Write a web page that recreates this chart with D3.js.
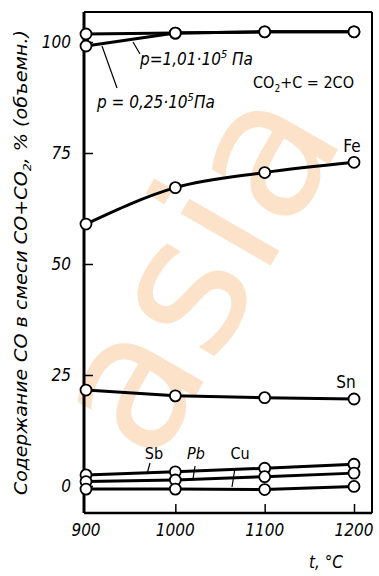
<!DOCTYPE html>
<html><head><meta charset="utf-8">
<script src="https://cdn.jsdelivr.net/npm/d3@7"></script>
<style>
body{margin:0;background:#fff;}
svg{display:block;}
text{font-family:"DejaVu Sans Condensed","DejaVu Sans",sans-serif;}
</style></head>
<body>
<script>
const temps = [900, 1000, 1100, 1200];
const xTicks = [900, 1000, 1100, 1200];
const yTicks = [0, 25, 50, 75, 100];
const pLow = [101.8, 102.0, 102.3, 102.3];   // p = 0,25·10^5 Па
const pHigh = [99.1, 102.0, 102.3, 102.3];   // p = 1,01·10^5 Па
const fe = [59.0, 67.2, 70.6, 72.9];
const sn = [21.6, 20.3, 19.9, 19.6];
const sb = [2.5, 3.2, 4.0, 4.9];
const pb = [1.0, 1.35, 2.1, 2.9];
const cu = [-0.7, -0.7, -0.8, -0.1];

const W = 379, H = 576;
const svg = d3.select("body").append("svg").attr("width", W).attr("height", H);

const mL = 84, mR = 372, mT = 12, mB = 513;
const x = d3.scaleLinear().domain([900, 1200]).range([86, 354]);
const y = d3.scaleLinear().domain([0, 100]).range([486, 42]);

// watermark
svg.append("text")
  .attr("transform", "translate(205,275) rotate(-60)")
  .attr("text-anchor", "middle")
  .attr("dominant-baseline", "middle")
  .style("font-family", "'DejaVu Sans', sans-serif")
  .style("font-size", "190px")
  .attr("fill", "#fbe2c8")
  .text("asia");

// frame
const frame = svg.append("g").attr("stroke", "#000").attr("fill", "none");
frame.append("line").attr("x1", mL).attr("x2", mL).attr("y1", mT).attr("y2", mB).attr("stroke-width", 3);
frame.append("line").attr("x1", mL).attr("x2", mR).attr("y1", mB).attr("y2", mB).attr("stroke-width", 2.5);
frame.append("line").attr("x1", mL).attr("x2", mR).attr("y1", mT).attr("y2", mT).attr("stroke-width", 2);
frame.append("line").attr("x1", mR).attr("x2", mR).attr("y1", mT).attr("y2", mB).attr("stroke-width", 2);

// axes
const yAxis = d3.axisRight(y).tickValues(yTicks).tickSize(9).tickFormat("");
svg.append("g").attr("transform", `translate(${mL},0)`).call(yAxis)
  .call(g => g.select(".domain").remove())
  .call(g => g.selectAll("line").attr("stroke-width", 1.5));
const xAxis = d3.axisTop(x).tickValues([1000, 1100, 1200]).tickSize(9).tickFormat("");
svg.append("g").attr("transform", `translate(0,${mB})`).call(xAxis)
  .call(g => g.select(".domain").remove())
  .call(g => g.selectAll("line").attr("stroke-width", 1.5));

// tick labels
svg.append("g").selectAll("text").data(yTicks).join("text")
  .attr("x", 71).attr("y", d => y(d)).attr("dy", "0.36em")
  .attr("text-anchor", "end").style("font-size", "17px").style("font-style", "italic")
  .text(d => d);
svg.append("g").selectAll("text").data(xTicks).join("text")
  .attr("x", d => x(d)).attr("y", 536)
  .attr("text-anchor", "middle").style("font-size", "17px").style("font-style", "italic")
  .text(d => d);
svg.append("text").attr("x", 326).attr("y", 568).attr("text-anchor", "middle")
  .style("font-size", "17px").style("font-style", "italic").text("t, °C");

// y axis title
svg.append("text").attr("transform", "translate(27,432) rotate(-90)")
  .attr("text-anchor", "middle").style("font-size", "17px").style("font-style", "italic")
  .attr("textLength", 126).attr("lengthAdjust", "spacingAndGlyphs").text("Содержание");
const yt = svg.append("text").attr("transform", "translate(27,196) rotate(-90)")
  .attr("text-anchor", "middle").style("font-size", "17px").style("font-style", "italic")
  .attr("textLength", 332).attr("lengthAdjust", "spacingAndGlyphs");
yt.append("tspan").text("CO в смеси CO+CO");
yt.append("tspan").attr("dy", 4).style("font-size", "11px").text("2");
yt.append("tspan").attr("dy", -4).text(", % (объемн.)");

// lines
const lineS = d3.line().x((d, i) => x(temps[i])).y(d => y(d));
const lineC = d3.line().x((d, i) => x(temps[i])).y(d => y(d)).curve(d3.curveMonotoneX);
const series = [
  {v: pHigh, c: false}, {v: pLow, c: false}, {v: fe, c: true}, {v: sn, c: false},
  {v: sb, c: false}, {v: pb, c: false}, {v: cu, c: false}
];
const lg = svg.append("g").attr("fill", "none").attr("stroke", "#000").attr("stroke-width", 3);
series.forEach(s => lg.append("path").attr("d", (s.c ? lineC : lineS)(s.v)));
const pg = svg.append("g");
series.forEach(s => {
  pg.selectAll(null).data(s.v).join("circle")
    .attr("cx", (d, i) => x(temps[i])).attr("cy", d => y(d)).attr("r", 5.5)
    .attr("fill", "#fff").attr("stroke", "#000").attr("stroke-width", 1.8);
});

// labels
function txt(xx, yy, s, anchor, size, italic) {
  return svg.append("text").attr("x", xx).attr("y", yy).attr("text-anchor", anchor || "start")
    .style("font-size", (size || 17) + "px").style("font-style", italic === false ? "normal" : "italic").text(s);
}
txt(352, 152, "Fe", "middle", 17, false);
txt(346, 388, "Sn", "middle", 17, false);
txt(154, 459, "Sb", "middle", 16, false);
txt(196, 459, "Pb", "middle", 16, true);
txt(240, 459, "Cu", "middle", 16, false);

const pl = svg.append("text").attr("x", 140).attr("y", 65).style("font-size", "17px").style("font-style", "italic");
pl.append("tspan").text("p=1,01·10");
pl.append("tspan").attr("dy", -7).style("font-size", "11px").text("5");
pl.append("tspan").attr("dy", 7).text(" Па");
const pl2 = svg.append("text").attr("x", 97).attr("y", 108).style("font-size", "17px").style("font-style", "italic");
pl2.append("tspan").text("p = 0,25·10");
pl2.append("tspan").attr("dy", -7).style("font-size", "11px").text("5");
pl2.append("tspan").attr("dy", 7).text("Па");
const eq = svg.append("text").attr("x", 253).attr("y", 88).style("font-size", "16px");
eq.append("tspan").text("CO");
eq.append("tspan").attr("dy", 4).style("font-size", "10px").text("2");
eq.append("tspan").attr("dy", -4).text("+C = 2CO");

// leader lines
const ll = svg.append("g").attr("stroke", "#000").attr("stroke-width", 1.2);
[[140, 54, 133, 42], [117, 88, 102, 46], [150, 463, 147, 474], [195, 466, 193, 479], [235, 468, 232, 487]]
  .forEach(a => ll.append("line").attr("x1", a[0]).attr("y1", a[1]).attr("x2", a[2]).attr("y2", a[3]));
</script>
</body></html>
